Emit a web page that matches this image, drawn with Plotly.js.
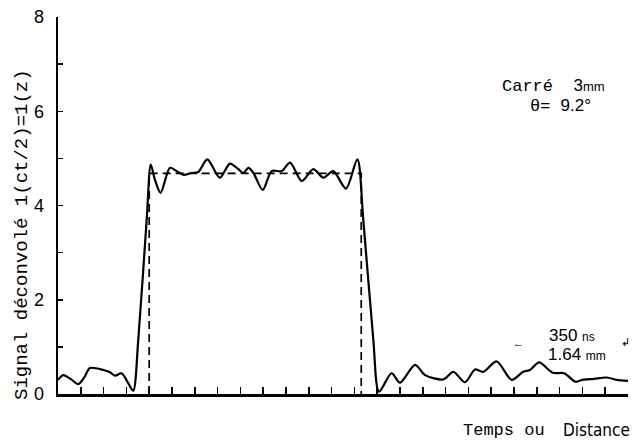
<!DOCTYPE html>
<html>
<head>
<meta charset="utf-8">
<script src="https://cdn.plot.ly/plotly-3.0.1.min.js"></script>
<style>html,body{margin:0;padding:0;background:#fff;}#chart{width:637px;height:441px;}</style>
</head>
<body>
<div id="chart"></div>
<script>
// Solid curve: deconvolved signal
const signalX = [0, 0.23, 0.55, 0.89, 1.15, 1.40, 1.99, 2.28, 2.50, 2.79, 3.08, 3.30, 3.52, 3.89, 4.07, 4.25, 4.50, 4.91, 5.20, 5.50, 5.86, 6.15, 6.55, 7.10, 7.54, 7.91, 8.13, 8.35, 8.57, 8.98, 9.37, 9.81, 10.18, 10.69, 11.20, 11.64, 12.07, 12.63, 13.13, 13.39, 13.83, 14.08, 14.63, 15.00, 15.66, 16.10, 16.90, 17.34, 17.85, 18.29, 18.65, 19.24, 19.90, 20.40, 20.70, 21.10, 21.70, 22.20, 22.70, 23.00, 23.50, 24.06, 24.50, 25.00];
const signalY = [0.30, 0.40, 0.32, 0.21, 0.35, 0.55, 0.51, 0.46, 0.39, 0.44, 0.23, 0.07, 1.15, 3.70, 4.87, 4.55, 4.27, 4.80, 4.73, 4.65, 4.69, 4.71, 4.98, 4.59, 4.89, 4.77, 4.69, 4.80, 4.69, 4.33, 4.73, 4.73, 4.91, 4.52, 4.77, 4.59, 4.73, 4.36, 4.98, 3.70, 1.15, 0.05, 0.44, 0.24, 0.62, 0.40, 0.31, 0.47, 0.25, 0.52, 0.47, 0.69, 0.30, 0.47, 0.51, 0.67, 0.45, 0.44, 0.26, 0.30, 0.32, 0.35, 0.30, 0.28];
// Dashed ideal square profile
const squareX = [4.0, 4.0, 13.3, 13.3];
const squareY = [0, 4.68, 4.68, 0];
// Axis ticks
const yTickVals = [0, 1, 2, 3, 4, 5, 6, 7, 8];
const yTickText = ["0", "", "2", "", "4", "", "6", "", "8"];

const W = 637, H = 441, L = 58, R = 9, T = 17, B = 47;
const px = x => (x - L) / (W - L - R);
const py = y => (H - B - y) / (H - T - B);
const mono = "'Liberation Mono', 'Courier New', monospace";
const sans = "'Liberation Sans', Arial, sans-serif";

const data = [
  {x: squareX, y: squareY, type: 'scatter', mode: 'lines',
   line: {color: '#000', width: 1.7, dash: '8px,5px'}, hoverinfo: 'skip'},
  {x: signalX, y: signalY, type: 'scatter', mode: 'lines',
   line: {color: '#000', width: 2.2, shape: 'spline', smoothing: 0.8}, hoverinfo: 'skip'}
];

function ann(text, x, y, font, extra) {
  return Object.assign({text: text, xref: 'paper', yref: 'paper', x: px(x), y: py(y),
    xanchor: 'center', yanchor: 'middle', showarrow: false, font: font}, extra || {});
}

const annotations = [
  ann('Signal déconvolé 1(ct/2)=1(z)', 22, 235, {family: mono, size: 19, color: '#000'}, {textangle: -90}),
  ann("Carré  <span style='font-family:Liberation Sans'>3<span style='font-size:13px'>mm</span></span>",
      553, 86, {family: mono, size: 17, color: '#000'}),
  ann("θ= <span style='font-family:Liberation Sans'>9.2°</span>", 560, 106, {family: mono, size: 17, color: '#000'}),
  ann("350 <span style='font-size:12px'>ns</span>", 572, 335, {family: sans, size: 17, color: '#000'}),
  ann("1.64 <span style='font-size:12px'>mm</span>", 577, 354, {family: sans, size: 17, color: '#000'}),
  ann("←", 518, 343, {family: sans, size: 11, color: '#000'}),
  ann("↲", 625, 342, {family: sans, size: 11, color: '#000'}),
  ann("Temps ou", 504, 430, {family: mono, size: 17, color: '#000'}),
  ann("Distance", 596, 430, {family: "'Liberation Sans Narrow', 'DejaVu Sans Condensed', sans-serif", size: 17, color: '#000'})
];

const layout = {
  width: W, height: H,
  margin: {l: L, r: R, t: T, b: B, pad: 0},
  paper_bgcolor: '#fff', plot_bgcolor: '#fff',
  showlegend: false,
  xaxis: {range: [0, 25], showgrid: false, zeroline: false, showline: true, linecolor: '#000', linewidth: 2.5,
          ticks: 'inside', ticklen: 7, tickwidth: 1.5, tickcolor: '#000', dtick: 1, tick0: 0, showticklabels: false},
  yaxis: {range: [0, 8], showgrid: false, zeroline: false, showline: true, linecolor: '#000', linewidth: 2.5,
          ticks: 'inside', ticklen: 5, tickwidth: 1.5, tickcolor: '#000', tickmode: 'array',
          tickvals: yTickVals, ticktext: yTickText, ticklabelstandoff: 8,
          tickfont: {family: sans, size: 18, color: '#000'}},
  annotations: annotations
};

Plotly.newPlot('chart', data, layout, {displayModeBar: false, staticPlot: true});
</script>
</body>
</html>
